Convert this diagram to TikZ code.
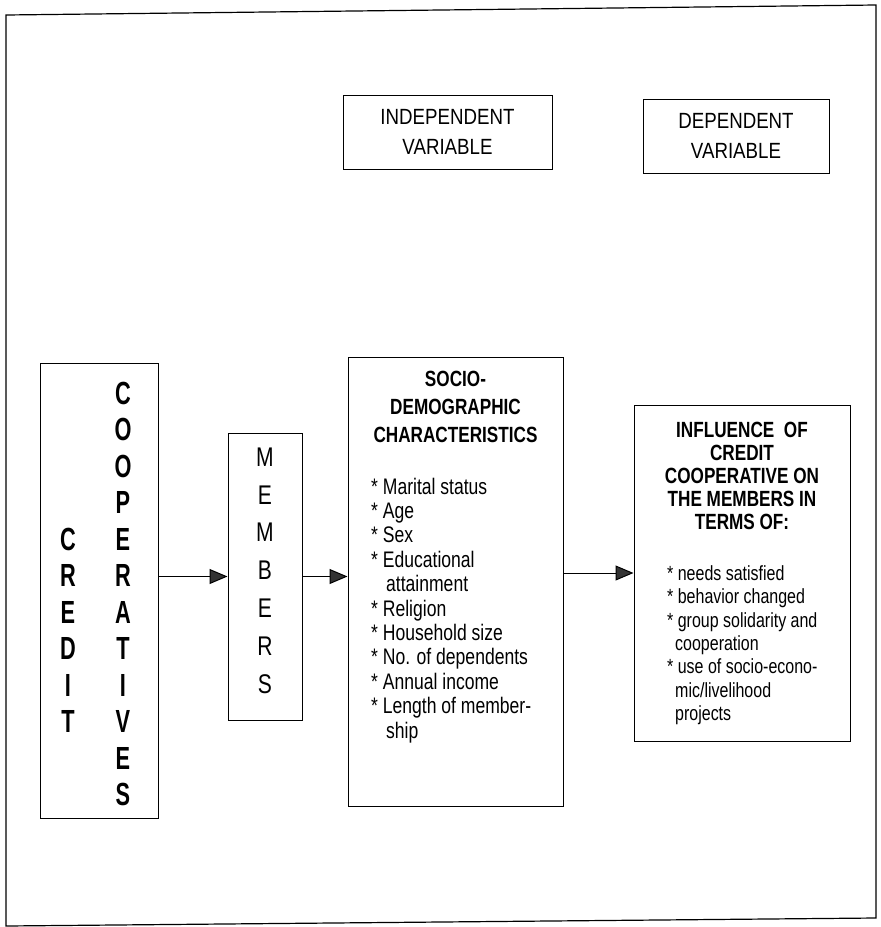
\documentclass[tikz,border=0pt]{standalone}
\usepackage{fontspec}
\setmainfont{Liberation Sans}
\newfontfamily\narrowfont{Liberation Sans}[FakeStretch=0.78]
\newfontfamily\varfont{Liberation Sans}[FakeStretch=0.85]
\newfontfamily\tallfont{Liberation Sans}[FakeStretch=0.68]
\usetikzlibrary{arrows.meta,calc}

\begin{document}
\begin{tikzpicture}
[   x=1pt, y=-1pt,
    box/.style={draw=black, line width=1pt, inner sep=0pt},
    varbox/.style={box, align=center, font=\varfont\fontsize{22}{30}\selectfont},
    bigletter/.style={font=\tallfont\bfseries\fontsize{32}{32}\selectfont, inner sep=0pt},
    memletter/.style={font=\narrowfont\fontsize{27}{27}\selectfont, inner sep=0pt},
    headtext/.style={font=\narrowfont\bfseries\fontsize{22}{23}\selectfont, inner sep=0pt, anchor=base},
    listtext/.style={font=\narrowfont\fontsize{22.5}{24}\selectfont, inner sep=0pt, anchor=base west},
    smalllist/.style={font=\narrowfont\fontsize{20.5}{23}\selectfont, inner sep=0pt, anchor=base west},
    flow/.style={-{Triangle[length=18pt, width=15pt, fill=black!80]}, line width=1pt}, ]
    \useasboundingbox (0,0) rectangle (881,927);

    % outer frame
    \draw[line width=1.2pt] (6,15) -- (876,5) -- (876,918) -- (6,926) -- cycle;

    \node[varbox, minimum width=209pt, minimum height=74pt] (indep) at (447.5,132) {INDEPENDENT\\VARIABLE};
    \node[varbox, minimum width=186pt, minimum height=74pt] (dep) at (736,136) {DEPENDENT\\VARIABLE};

    \node[box, minimum width=118pt, minimum height=455pt] (credit) at (99,590.5) {};
    \node[box, minimum width=74pt, minimum height=287pt] (members) at (265,576.5) {};
    \node[box, minimum width=215pt, minimum height=449pt] (socio) at (455.5,581.5) {};
    \node[box, minimum width=216pt, minimum height=336pt] (influence) at (742,573) {};

    \foreach \ch [count=\i] in {C,O,O,P,E,R,A,T,I,V,E,S}
    {   \node[bigletter] (coop-\i) at (123,{393+36.5*(\i-1)}) {\ch};
    }
    \foreach \ch [count=\i from 5] in {C,R,E,D,I,T}
    {   \node[bigletter] (cred-\i) at (68,{393+36.5*(\i-1)}) {\ch};
    }
    \foreach \ch [count=\i] in {M,E,M,B,E,R,S}
    {   \node[memletter] (mem-\i) at (265,{457+37.8*(\i-1)}) {\ch};
    }

    \foreach \txt [count=\i] in {SOCIO-,DEMOGRAPHIC,CHARACTERISTICS}
    {   \node[headtext] (sochead-\i) at (455.5,{386+28*(\i-1)}) {\txt};
    }
    \foreach \txt [count=\i] in {{* Marital status},{* Age},{* Sex},{* Educational},{\hspace*{15pt}attainment},{* Religion},{* Household size},{* No. of dependents},{* Annual income},{* Length of member-},{\hspace*{15pt}ship}}
    {   \node[listtext] (socitem-\i) at (371,{494+24.4*(\i-1)}) {\txt};
    }

    \foreach \txt [count=\i] in {{INFLUENCE\ \ OF},CREDIT,{COOPERATIVE ON},{THE MEMBERS IN},{TERMS OF:}}
    {   \node[headtext] (infhead-\i) at (742,{437+23*(\i-1)}) {\txt};
    }
    \foreach \txt [count=\i] in {{* needs satisfied},{* behavior changed},{* group solidarity and},{\hspace*{8pt}cooperation},{* use of socio-econo-},{\hspace*{8pt}mic/livelihood},{\hspace*{8pt}projects}}
    {   \node[smalllist] (infitem-\i) at (667,{580.5+23.3*(\i-1)}) {\txt};
    }

    \draw[flow] (credit.east |- members.west) -- (members.west);
    \draw[flow] (members.east) -- (members.east -| socio.west);
    \draw[flow] (socio.east |- influence.west) -- (influence.west);

\end{tikzpicture}
\end{document}
